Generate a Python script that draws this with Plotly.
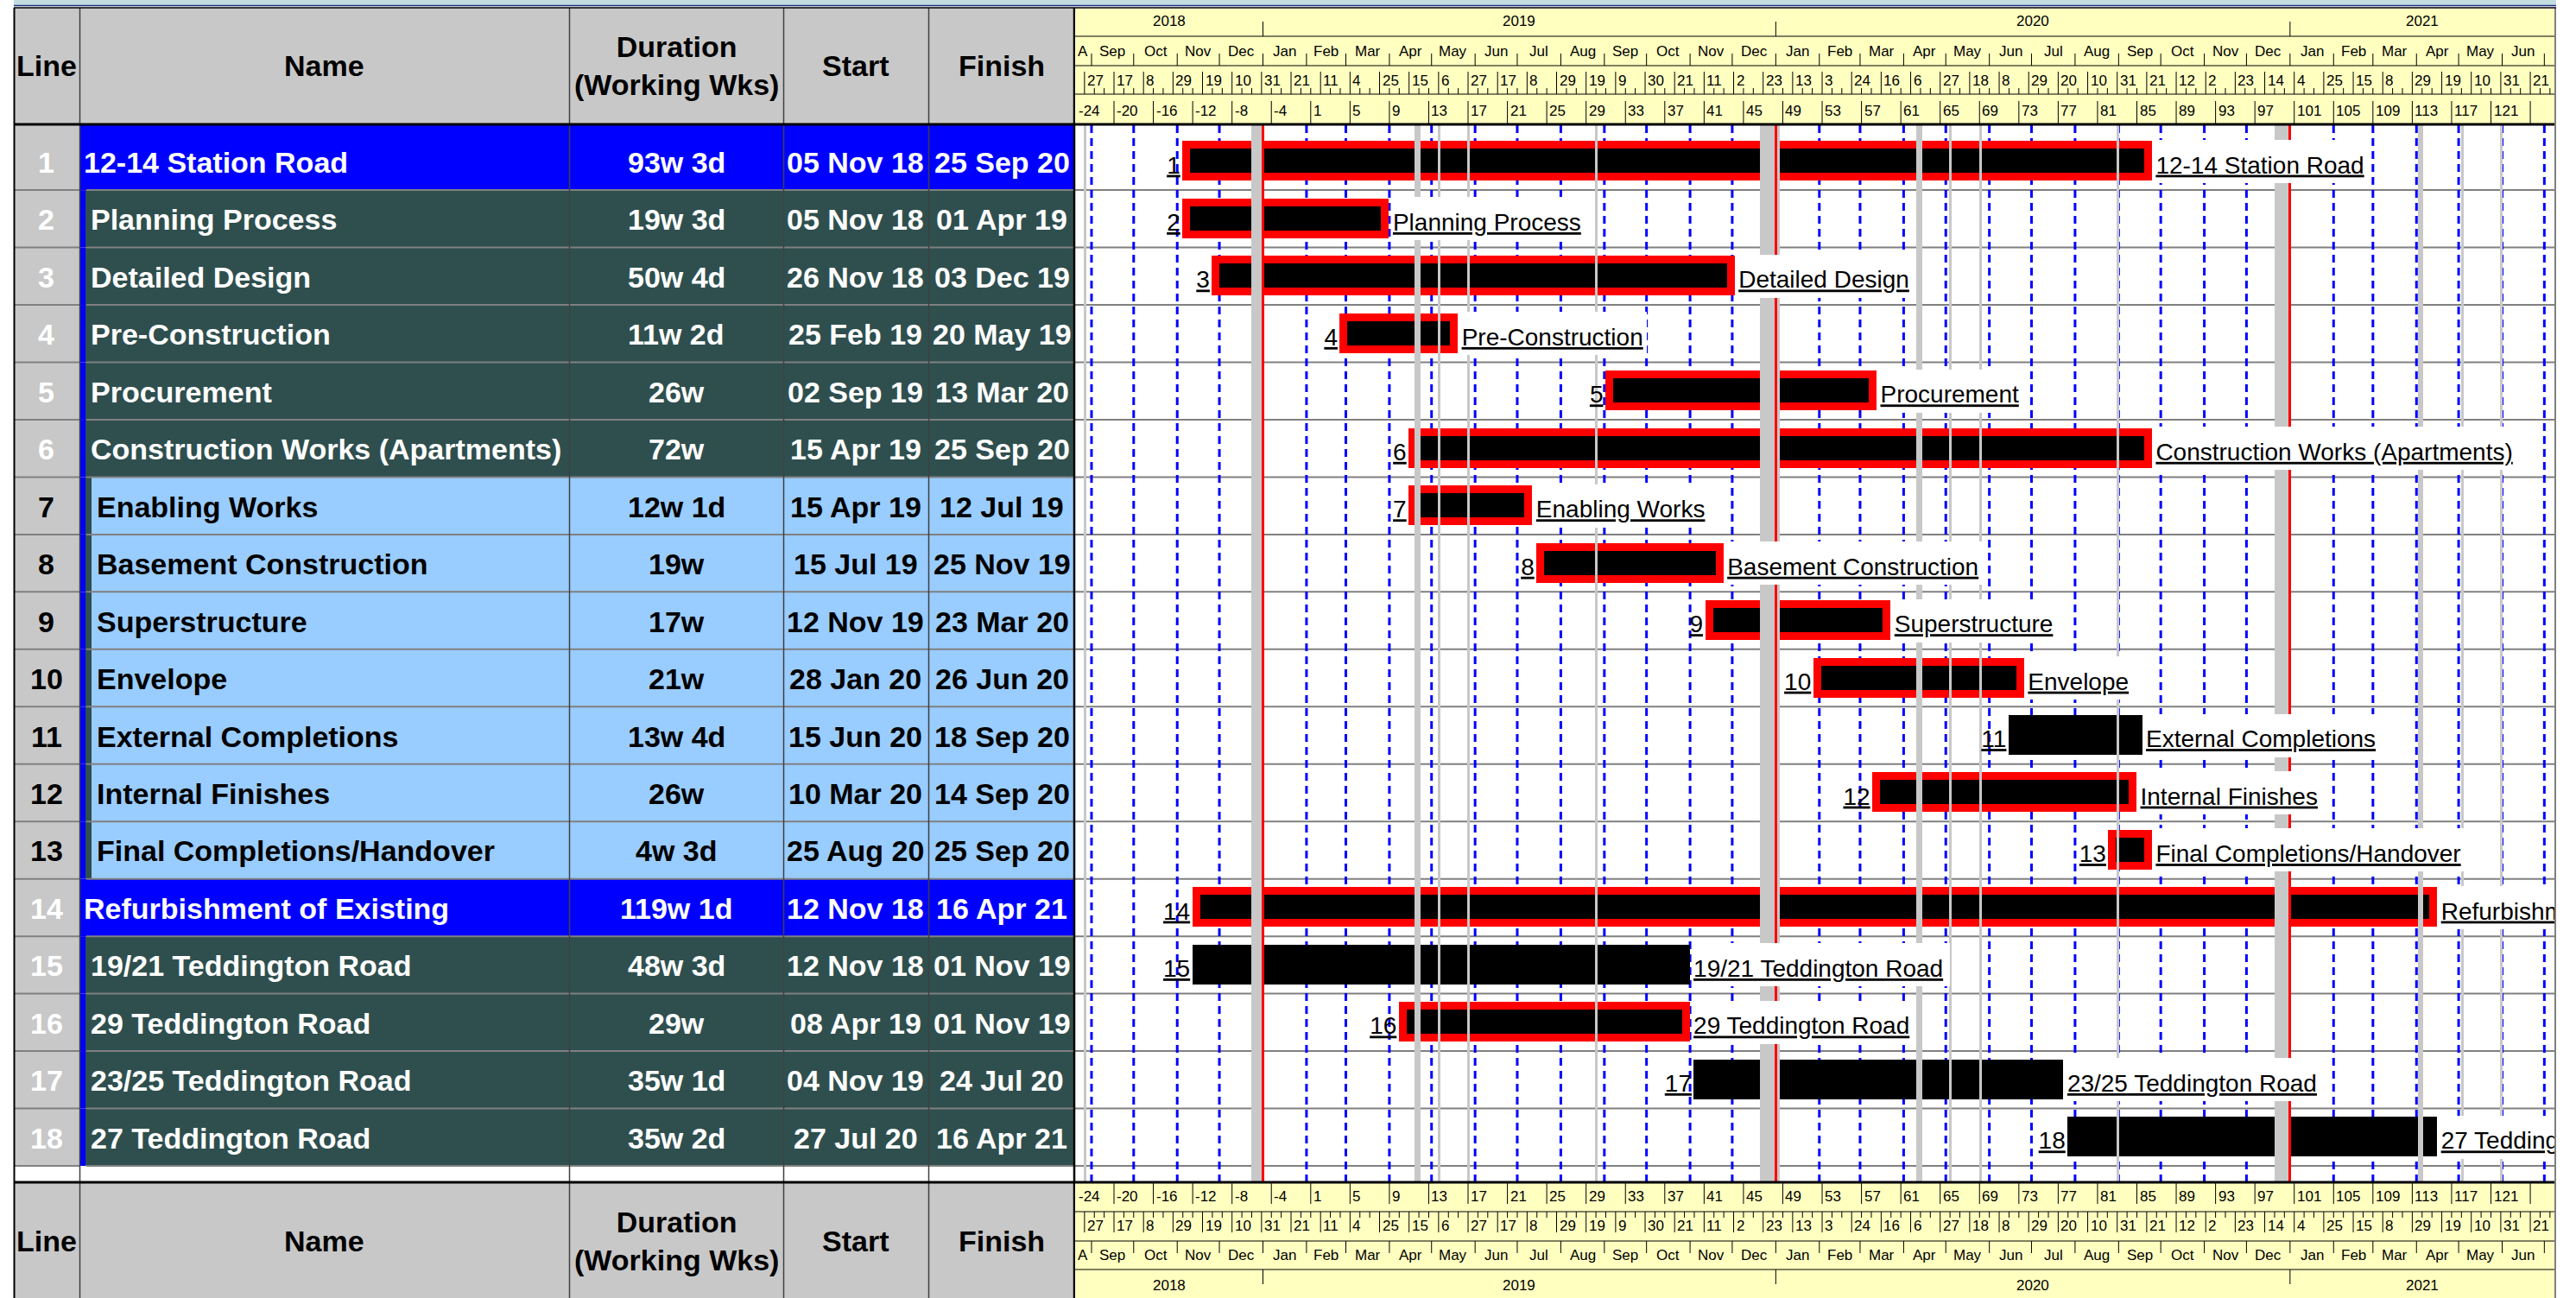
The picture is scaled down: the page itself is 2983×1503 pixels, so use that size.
import pandas as pd
import plotly.graph_objects as go

W, H = 2983, 1503
FONT = "Liberation Sans, Arial, sans-serif"

# ---------------- data ----------------
lines = list(range(1, 19))
names = ["12-14 Station Road", "Planning Process", "Detailed Design", "Pre-Construction",
         "Procurement", "Construction Works (Apartments)", "Enabling Works",
         "Basement Construction", "Superstructure", "Envelope", "External Completions",
         "Internal Finishes", "Final Completions/Handover", "Refurbishment of Existing",
         "19/21 Teddington Road", "29 Teddington Road", "23/25 Teddington Road",
         "27 Teddington Road"]
durations = ["93w 3d", "19w 3d", "50w 4d", "11w 2d", "26w", "72w", "12w 1d", "19w", "17w",
             "21w", "13w 4d", "26w", "4w 3d", "119w 1d", "48w 3d", "29w", "35w 1d", "35w 2d"]
starts = ["05 Nov 18", "05 Nov 18", "26 Nov 18", "25 Feb 19", "02 Sep 19", "15 Apr 19",
          "15 Apr 19", "15 Jul 19", "12 Nov 19", "28 Jan 20", "15 Jun 20", "10 Mar 20",
          "25 Aug 20", "12 Nov 18", "12 Nov 18", "08 Apr 19", "04 Nov 19", "27 Jul 20"]
finishes = ["25 Sep 20", "01 Apr 19", "03 Dec 19", "20 May 19", "13 Mar 20", "25 Sep 20",
            "12 Jul 19", "25 Nov 19", "23 Mar 20", "26 Jun 20", "18 Sep 20", "14 Sep 20",
            "25 Sep 20", "16 Apr 21", "01 Nov 19", "01 Nov 19", "24 Jul 20", "16 Apr 21"]
levels = [0, 1, 1, 1, 1, 1, 2, 2, 2, 2, 2, 2, 2, 0, 1, 1, 1, 1]
critical = [1, 1, 1, 1, 1, 1, 1, 1, 1, 1, 0, 1, 1, 1, 0, 1, 0, 0]

holiday_start = ["2018-08-27", "2018-12-24", "2019-04-19", "2019-05-06", "2019-05-27",
                 "2019-08-26", "2019-12-21", "2020-04-10", "2020-05-04", "2020-05-25",
                 "2020-08-31", "2020-12-21", "2021-04-02", "2021-05-03", "2021-05-31"]
holiday_end = ["2018-08-28", "2019-01-01", "2019-04-23", "2019-05-07", "2019-05-28",
               "2019-08-27", "2020-01-04", "2020-04-14", "2020-05-05", "2020-05-26",
               "2020-09-01", "2021-01-01", "2021-04-06", "2021-05-04", "2021-06-01"]
year_lines = ["2019-01-01", "2020-01-01", "2021-01-01"]

month_labels = ["Jan", "Feb", "Mar", "Apr", "May", "Jun", "Jul", "Aug", "Sep", "Oct", "Nov", "Dec"]
year_labels = [2018, 2019, 2020, 2021]
week_tick_numbers = [-24, -20, -16, -12, -8, -4] + list(range(1, 126, 4))
WEEK1 = pd.Timestamp("2019-02-04")
DAY_LABEL_FIRST = pd.Timestamp("2018-08-27")

header_cols = ["Line", "Name", "Duration<br>(Working Wks)", "Start", "Finish"]

# ---------------- geometry / style ----------------
BLUE, SLATE, LIGHT, CELLGRAY, YELLOW = "#0000FF", "#2F4F4F", "#99CCFF", "#C8C8C8", "#FFFFC0"
RED, BANDGRAY, SEPGRAY = "#FF0000", "#C8C8C8", "#808080"

AXIS_START = pd.Timestamp("2018-08-20 08:00")
AXIS_END = pd.Timestamp("2021-07-08 04:00")
GX0, GX1 = 1245, 2958
GY0, GY1 = 145, 1368
Y_TOP, Y_BOT = 0.37, 18.771
ROW_PX = (GY1 - GY0) / (Y_BOT - Y_TOP)
TD_PX = (AXIS_END - AXIS_START) / (GX1 - GX0)

TABLE_FS = 34
HEAD_FS = 34
LBL = 28
BAND_FS = 17


def td(p):
    return TD_PX * p


def ms(t):
    return t / pd.Timedelta(milliseconds=1)


def iso(d):
    return d.strftime("%Y-%m-%d %H:%M:%S")


def ypx(v):
    return GY0 + (v - Y_TOP) * ROW_PX


AW = {' ': 278, '(': 333, ')': 333, '-': 333, '/': 278, '.': 278}
for c in "0123456789":
    AW[c] = 556
AW.update(dict(zip("ABCDEFGHIJKLMNOPQRSTUVWXYZ",
                   [667, 667, 722, 722, 667, 611, 778, 722, 278, 500, 667, 556, 833, 722, 778,
                    667, 778, 722, 667, 611, 722, 667, 944, 667, 667, 611])))
AW.update(dict(zip("abcdefghijklmnopqrstuvwxyz",
                   [556, 556, 500, 556, 556, 278, 556, 556, 222, 222, 500, 222, 833, 556, 556,
                    556, 556, 333, 500, 278, 556, 500, 722, 500, 500, 500])))


def text_w(s, size):
    return sum(AW.get(c, 556) for c in s) * size / 1000


start_dt = pd.to_datetime(starts, format="%d %b %y")
finish_dt = pd.to_datetime(finishes, format="%d %b %y")

fig = go.Figure()

# task bars (red outline = critical)
BORDER = 9
inset = td(BORDER / 2)
fig.add_trace(go.Bar(
    orientation="h", y=lines,
    base=[iso(s + inset) for s in start_dt],
    x=[ms(f - s - 2 * inset) for s, f in zip(start_dt, finish_dt)],
    width=(46 - BORDER) / ROW_PX,
    marker=dict(color="black", line=dict(color=[RED if c else "black" for c in critical], width=BORDER)),
    hoverinfo="skip", showlegend=False))

# non-working day bands
bc = (Y_TOP + Y_BOT) / 2
bw = Y_BOT - Y_TOP
hb, hl = [], []
for s, e in zip(holiday_start, holiday_end):
    s, e = pd.Timestamp(s), pd.Timestamp(e)
    if e - s < td(3):
        m = s + (e - s) / 2
        s, e = m - td(1.5), m + td(1.5)
    hb.append(iso(s))
    hl.append(ms(e - s))
fig.add_trace(go.Bar(orientation="h", y=[bc] * len(hb), base=hb, x=hl, width=bw,
                     marker=dict(color=BANDGRAY, line=dict(width=0)),
                     hoverinfo="skip", showlegend=False))
# year boundary red lines
fig.add_trace(go.Bar(orientation="h", y=[bc] * len(year_lines),
                     base=[iso(pd.Timestamp(d) - td(1.5)) for d in year_lines],
                     x=[ms(td(3))] * len(year_lines), width=bw,
                     marker=dict(color=RED, line=dict(width=0)),
                     hoverinfo="skip", showlegend=False))

# white label backgrounds
fig.add_trace(go.Bar(orientation="h", y=lines,
                     base=[iso(f + td(2)) for f in finish_dt],
                     x=[ms(td(text_w(n, LBL) + 6)) for n in names],
                     width=50 / ROW_PX,
                     marker=dict(color="white", line=dict(width=0)),
                     hoverinfo="skip", showlegend=False))

TDY = 0.1
fig.add_trace(go.Scatter(
    x=[iso(f + td(4)) for f in finish_dt], y=[l + TDY for l in lines], mode="text",
    text=names, textposition="middle right", cliponaxis=True,
    textfont=dict(family=FONT, size=LBL, color="black", lineposition="under"),
    hoverinfo="skip", showlegend=False))
fig.add_trace(go.Scatter(
    x=[iso(s - td(3)) for s in start_dt], y=[l + TDY for l in lines], mode="text",
    text=[str(l) for l in lines], textposition="middle left", cliponaxis=True,
    textfont=dict(family=FONT, size=LBL, color="black", lineposition="under"),
    hoverinfo="skip", showlegend=False))

shapes, ann = [], []


def rect(x0, x1, y0, y1, fill, layer="above"):
    shapes.append(dict(type="rect", xref="paper", yref="paper", x0=x0 / W, x1=x1 / W,
                       y0=1 - y1 / H, y1=1 - y0 / H, fillcolor=fill,
                       line=dict(width=0), layer=layer))


def hline(x0, x1, y, color, lw, layer="above"):
    shapes.append(dict(type="line", xref="paper", yref="paper", x0=x0 / W, x1=x1 / W,
                       y0=1 - y / H, y1=1 - y / H, line=dict(color=color, width=lw), layer=layer))


def vline(x, y0, y1, color, lw, layer="above"):
    shapes.append(dict(type="line", xref="paper", yref="paper", x0=x / W, x1=x / W,
                       y0=1 - y0 / H, y1=1 - y1 / H, line=dict(color=color, width=lw), layer=layer))


def dline(d, y0, y1, color="black", lw=1, layer="above", dash=None):
    ln = dict(color=color, width=lw)
    if dash:
        ln["dash"] = dash
    shapes.append(dict(type="line", xref="x", yref="paper", x0=iso(d), x1=iso(d),
                       y0=1 - y0 / H, y1=1 - y1 / H, line=ln, layer=layer))


def txt(x, y, s, size, color="black", bold=False, xanchor="center", xref="paper", xshift=0):
    ann.append(dict(x=x, y=y, xref=xref, yref="paper", text=s, showarrow=False,
                    xanchor=xanchor, yanchor="middle", xshift=xshift,
                    font=dict(family=FONT, size=size, color=color,
                              weight="bold" if bold else "normal")))


# ---- top strip ----
rect(16, 2960, 0, 6, "#C3DCE0")
hline(16, 2960, 6.5, "#1F2F80", 1.5)

# ---- Gantt row separators & month dashes (below traces) ----
for k in range(1, 19):
    hline(GX0, GX1, ypx(k + 0.5), SEPGRAY, 2, layer="below")
m = pd.Timestamp("2018-09-01")
while m < AXIS_END:
    if m.month != 1:
        dline(m, GY0, GY1, color=BLUE, lw=3, layer="below", dash="9px,6px")
    m = m + pd.DateOffset(months=1)

# ---- table header & body ----
COLX = [16, 92, 659, 907, 1075, 1244]
for (hy0, hy1) in [(9, 143), (1370, 1503)]:
    rect(17, 1243, hy0, hy1, CELLGRAY)
    yc = (hy0 + hy1) / 2
    for i, h in enumerate(header_cols):
        txt(((COLX[i] + COLX[i + 1]) / 2) / W, 1 - yc / H, h, HEAD_FS, bold=True)

rect(17, 92, 145, ypx(18.5), CELLGRAY)
for k, lev in zip(lines, levels):
    top = 145 if k == 1 else ypx(k - 0.5)
    bot = ypx(k + 0.5)
    if lev == 0:
        rect(93, 1243, top, bot, BLUE)
    elif lev == 1:
        rect(93, 99, top, bot, BLUE)
        rect(99, 1243, top, bot, SLATE)
    else:
        rect(93, 99, top, bot, BLUE)
        rect(99, 106, top, bot, SLATE)
        rect(106, 1243, top, bot, LIGHT)
for k in range(2, 20):
    y = ypx(k - 0.5)
    hline(17, 92, y, SEPGRAY, 2)
    hline(100, 1243, y, SEPGRAY, 2)

for k, nm, du, st, fi, lev in zip(lines, names, durations, starts, finishes, levels):
    col = "black" if lev == 2 else "white"
    yc = 1 - (ypx(k) + 1) / H
    txt(54 / W, yc, str(k), TABLE_FS, color=col, bold=True)
    nx = [95, 103, 110][lev]
    txt(nx / W, yc, nm, TABLE_FS, color=col, bold=True, xanchor="left")
    txt(783 / W, yc, du, TABLE_FS, color=col, bold=True)
    txt(991 / W, yc, st, TABLE_FS, color=col, bold=True)
    txt(1160 / W, yc, fi, TABLE_FS, color=col, bold=True)

for x in COLX[1:5]:
    vline(x + 0.5, 9, 1503, "#404040", 1.5)
vline(16.5, 9, 1503, "black", 2)
vline(1244, 9, 1503, "black", 2.5)
vline(2959, 9, 1503, "#808080", 2)
hline(16, 2960, 9, "black", 1.5)

# ---- timeline bands ----
rect(1245, 2958, 10, 143, YELLOW)
rect(1245, 2958, 1370, 1503, YELLOW)
for y in (42, 76, 109):
    hline(1245, 2958, y, "black", 1)
for y in (1403, 1437, 1470):
    hline(1245, 2958, y, "black", 1)
hline(16, 2958, 144, "black", 3)
hline(16, 2958, 1369, "black", 3)

# years
for yr in year_labels:
    a = max(pd.Timestamp(f"{yr}-01-01"), AXIS_START)
    b = min(pd.Timestamp(f"{yr + 1}-01-01"), AXIS_END)
    c = a + (b - a) / 2
    txt(iso(c), 1 - 25 / H, str(yr), BAND_FS, xref="x")
    txt(iso(c), 1 - 1488 / H, str(yr), BAND_FS, xref="x")
for d in year_lines:
    dline(pd.Timestamp(d), 25, 42)
    dline(pd.Timestamp(d), 1470, 1487)
# months
m = pd.Timestamp("2018-08-01")
while m < AXIS_END:
    nxt = m + pd.DateOffset(months=1)
    a, b = max(m, AXIS_START), min(nxt, AXIS_END)
    wpx = (b - a) / TD_PX
    lab = month_labels[m.month - 1]
    if wpx >= 12:
        if wpx < 30:
            lab = lab[0]
        c = a + (b - a) / 2
        txt(iso(c), 1 - 59 / H, lab, BAND_FS, xref="x")
        txt(iso(c), 1 - 1453 / H, lab, BAND_FS, xref="x")
    if m > AXIS_START:
        dline(m, 62, 76)
        dline(m, 1437, 1451)
    m = nxt
# day-of-month (weekly) row
d = pd.Timestamp("2018-08-20")
while d < AXIS_END:
    labeled = (d - DAY_LABEL_FIRST).days % 21 == 0 and d >= DAY_LABEL_FIRST
    if d > AXIS_START:
        if labeled:
            dline(d, 83, 109)
            dline(d, 1403, 1427)
        else:
            dline(d, 102, 109)
            dline(d, 1403, 1410)
    if labeled and (d - AXIS_START) / TD_PX + 22 < (GX1 - GX0):
        txt(iso(d), 1 - 94 / H, str(d.day), BAND_FS, xanchor="left", xref="x", xshift=1)
        txt(iso(d), 1 - 1419 / H, str(d.day), BAND_FS, xanchor="left", xref="x", xshift=1)
    d = d + pd.Timedelta(days=7)
# week numbers row
for n in week_tick_numbers:
    d = WEEK1 + pd.Timedelta(days=7 * (n - 1 if n > 0 else n))
    if d > AXIS_START:
        dline(d, 117, 143)
        dline(d, 1370, 1394)
    if (d - AXIS_START) / TD_PX + 30 < (GX1 - GX0):
        xd = iso(max(d, AXIS_START + td(1)))
        txt(xd, 1 - 128 / H, str(n), BAND_FS, xanchor="left", xref="x", xshift=1)
        txt(xd, 1 - 1385 / H, str(n), BAND_FS, xanchor="left", xref="x", xshift=1)

fig.update_layout(
    width=W, height=H, margin=dict(l=0, r=0, t=0, b=0),
    paper_bgcolor="white", plot_bgcolor="white",
    barmode="overlay", bargap=0, showlegend=False,
    xaxis=dict(type="date", range=[iso(AXIS_START), iso(AXIS_END)], domain=[GX0 / W, GX1 / W],
               showgrid=False, showticklabels=False, ticks="", zeroline=False, showline=False),
    yaxis=dict(range=[Y_BOT, Y_TOP], domain=[1 - GY1 / H, 1 - GY0 / H],
               showgrid=False, showticklabels=False, ticks="", zeroline=False, showline=False),
    shapes=shapes, annotations=ann,
)

fig.write_html("out.html", config={"displayModeBar": False})
